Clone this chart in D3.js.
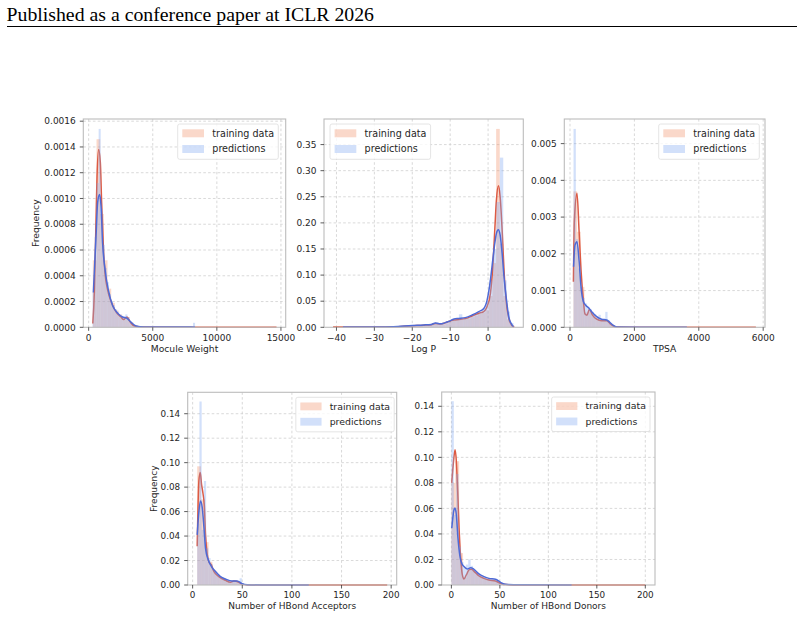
<!DOCTYPE html>
<html>
<head>
<meta charset="utf-8">
<script src="https://cdn.jsdelivr.net/npm/d3@7"></script>
<style>
body { margin: 0; background: #fff; }
text { font-family: "DejaVu Sans", sans-serif; fill: #262626; }
</style>
</head>
<body>
<script>
var svgWidth = 804;
var svgHeight = 617;

// ---------------- data ----------------
var seriesNames = ["training data", "predictions"];
var xLabels = ["Mocule Weight", "Log P", "TPSA", "Number of HBond Acceptors", "Number of HBond Donors"];

// min / max of each sample: [training, predictions]; every histogram has 50 bins over its own range
var mwRanges = [[326, 14653], [300, 8300]];
var mwTrainHist = [
    0.00052, 0.00146, 0.00088, 0.00052, 0.00030, 0.00019, 0.00013, 0.00010, 0.00006, 0.00008,
    0.00004, 0.00001, 0.000003, 0.000002, 0.000002, 0, 0, 0, 0, 0,
    0, 0, 0, 0, 0.000002, 0, 0, 0, 0, 0,
    0, 0, 0, 0, 0, 0, 0, 0, 0, 0,
    0, 0, 0, 0, 0, 0, 0, 0, 0, 0.000003];
var mwPredHist = [
    0.00027, 0.00070, 0.00112, 0.00154, 0.00092, 0.00064, 0.00046, 0.00035, 0.00026, 0.00020,
    0.00017, 0.00014, 0.00012, 0.00010, 0.00008, 0.00008, 0.00010, 0.00008, 0.00004, 0.00002,
    0.00001, 0.000005, 0, 0, 0, 0, 0, 0, 0, 0,
    0, 0, 0, 0, 0, 0, 0, 0, 0, 0,
    0, 0, 0, 0, 0, 0, 0, 0, 0, 0.000035];
var mwTrainKde = [[326, 0.00003], [444, 0.00027], [576, 0.00084], [654, 0.00117], [779, 0.00138], [911, 0.00128],
    [1012, 0.00097], [1145, 0.00063], [1277, 0.00042], [1480, 0.00029], [1745, 0.00020], [2134, 0.00012],
    [2523, 0.00008], [2726, 0.00006], [2990, 0.00008], [3248, 0.00004], [3560, 0.00001], [4200, 0.000002],
    [8000, 0.000001], [14653, 0.000001]];
var mwPredKde = [[366, 0.00027], [576, 0.00071], [701, 0.00097], [857, 0.00103], [966, 0.00094], [1090, 0.00065],
    [1277, 0.00045], [1534, 0.00029], [1869, 0.00017], [2259, 0.00011], [2648, 0.00008], [2990, 0.00007],
    [3302, 0.00004], [3700, 0.00001], [4300, 0.000002], [8000, 0.000002], [8300, 0.000001]];
var mwXTicks = [0, 5000, 10000, 15000];
var mwYTicks = [0, 0.0002, 0.0004, 0.0006, 0.0008, 0.0010, 0.0012, 0.0014, 0.0016];

var logpRanges = [[-40.9, 6.9], [-38.3, 6.7]];
var logpTrainHist = [
    0.0006, 0.0003, 0.0002, 0.0002, 0.0002, 0.0002, 0.0003, 0.0003, 0.0003, 0.0004,
    0.0004, 0.0005, 0.0005, 0.0006, 0.0007, 0.0008, 0.0010, 0.0012, 0.0015, 0.0018,
    0.0022, 0.0026, 0.0031, 0.0036, 0.0040, 0.0044, 0.0048, 0.0052, 0.0062, 0.0070,
    0.0060, 0.0075, 0.0105, 0.0130, 0.0142, 0.0150, 0.0160, 0.0170, 0.0195, 0.0225,
    0.0255, 0.0280, 0.0330, 0.0600, 0.1230, 0.3800, 0.1600, 0.0600, 0.0150, 0.0040];
var logpPredHist = [
    0.0003, 0.0003, 0.0002, 0.0003, 0.0003, 0.0004, 0.0004, 0.0005, 0.0005, 0.0006,
    0.0007, 0.0008, 0.0010, 0.0012, 0.0014, 0.0017, 0.0021, 0.0026, 0.0030, 0.0035,
    0.0040, 0.0044, 0.0048, 0.0050, 0.0052, 0.0055, 0.0058, 0.0095, 0.0065, 0.0060,
    0.0085, 0.0115, 0.0140, 0.0150, 0.0250, 0.0170, 0.0180, 0.0200, 0.0230, 0.0260,
    0.0300, 0.0360, 0.0500, 0.0900, 0.1500, 0.2400, 0.3250, 0.0900, 0.0300, 0.0080];
var logpTrainKde = [[-40.9, 0.0005], [-35, 0.0004], [-30, 0.0005], [-25, 0.001], [-20, 0.003], [-17, 0.004],
    [-15, 0.005], [-13.9, 0.0075], [-12.5, 0.0065], [-11.5, 0.008], [-10.4, 0.011], [-9, 0.014], [-7.7, 0.015],
    [-6, 0.0166], [-4.2, 0.0217], [-2.45, 0.027], [-1.13, 0.030], [-0.26, 0.040], [0.62, 0.065], [1.24, 0.116],
    [1.77, 0.187], [2.2, 0.244], [2.73, 0.271], [3.17, 0.251], [3.7, 0.187], [4.2, 0.110], [4.75, 0.052],
    [5.45, 0.017], [6.2, 0.004], [6.9, 0.0005]];
var logpPredKde = [[-38.3, 0.0004], [-35, 0.0004], [-30, 0.0006], [-25, 0.0012], [-20, 0.0035], [-17, 0.0045],
    [-15, 0.0055], [-13.9, 0.008], [-12.5, 0.0068], [-11.5, 0.0085], [-10.4, 0.011], [-9, 0.016], [-7.7, 0.017],
    [-6, 0.0185], [-4.2, 0.0236], [-2.45, 0.030], [-1.13, 0.036], [-0.26, 0.052], [0.62, 0.091], [1.24, 0.129],
    [1.77, 0.161], [2.2, 0.180], [2.7, 0.187], [3.17, 0.177], [3.7, 0.142], [4.2, 0.097], [4.75, 0.059],
    [5.45, 0.020], [6.2, 0.006], [6.7, 0.001]];
var logpXTicks = [-40, -30, -20, -10, 0];
var logpYTicks = [0, 0.05, 0.10, 0.15, 0.20, 0.25, 0.30, 0.35];

var tpsaRanges = [[106, 5773], [110, 3630]];
var tpsaTrainHist = [
    0.0037, 0.0026, 0.0011, 0.0004, 0.00045, 0.00035, 0.00024, 0.00020, 0.00018, 0.00018,
    0.00009, 0.00002, 0.000004, 0.000002, 0, 0, 0, 0, 0, 0,
    0, 0, 0, 0, 0, 0, 0, 0, 0, 0,
    0, 0, 0, 0, 0, 0, 0, 0, 0, 0,
    0, 0, 0, 0, 0, 0, 0, 0, 0, 0.000003];
var tpsaPredHist = [
    0.0054, 0.0024, 0.0016, 0.0011, 0.0008, 0.00065, 0.00055, 0.00050, 0.00042, 0.00035,
    0.00030, 0.00034, 0.00022, 0.00020, 0.00042, 0.00018, 0.00012, 0.00006, 0.00002, 0.000005,
    0, 0, 0, 0, 0, 0, 0, 0, 0, 0,
    0, 0, 0, 0, 0, 0, 0, 0, 0, 0,
    0, 0, 0, 0, 0, 0, 0, 0, 0, 0.000006];
var tpsaTrainKde = [[106, 0.00124], [135, 0.0029], [217, 0.00365], [280, 0.00265], [342, 0.00156], [414, 0.00074],
    [466, 0.00036], [528, 0.00033], [600, 0.00049], [694, 0.00034], [828, 0.00022], [983, 0.00018],
    [1139, 0.00018], [1242, 0.0001], [1346, 0.00003], [1450, 0.000005], [2500, 0.000002], [5773, 0.000001]];
var tpsaPredKde = [[110, 0.00165], [155, 0.00224], [217, 0.00233], [280, 0.00183], [342, 0.0011], [414, 0.0007],
    [487, 0.0006], [590, 0.00052], [694, 0.0004], [828, 0.00029], [983, 0.00022], [1139, 0.0002],
    [1242, 0.00013], [1346, 0.00005], [1450, 0.00001], [2500, 0.000003], [3630, 0.000002]];
var tpsaXTicks = [0, 2000, 4000, 6000];
var tpsaYTicks = [0, 0.001, 0.002, 0.003, 0.004, 0.005];

var hbaRanges = [[4.6, 196], [4.6, 117]];
var hbaTrainHist = [
    0.097, 0.070, 0.035, 0.019, 0.012, 0.008, 0.0055, 0.004, 0.0025, 0.003,
    0.0028, 0.0012, 0.0004, 0.0001, 0.0001, 0.00005, 0, 0, 0, 0,
    0, 0, 0, 0, 0, 0, 0, 0, 0, 0,
    0, 0, 0, 0, 0, 0, 0, 0, 0, 0,
    0, 0, 0, 0, 0, 0, 0, 0, 0, 0.00005];
var hbaPredHist = [
    0.050, 0.150, 0.045, 0.085, 0.030, 0.022, 0.017, 0.013, 0.011, 0.0085,
    0.0070, 0.0060, 0.0050, 0.0045, 0.0035, 0.0030, 0.0038, 0.0032, 0.0028, 0.0055,
    0.0012, 0.0006, 0.0003, 0.0001, 0, 0, 0, 0, 0, 0,
    0, 0, 0, 0, 0, 0, 0, 0, 0, 0,
    0, 0, 0, 0, 0, 0, 0, 0, 0, 0.0003];
var hbaTrainKde = [[4.6, 0.0316], [6.3, 0.085], [7.7, 0.092], [9, 0.082], [10.4, 0.075], [11.7, 0.066], [13, 0.041],
    [14.7, 0.025], [16.4, 0.019], [19.1, 0.016], [21.4, 0.011], [26.4, 0.0069], [33.1, 0.0038], [38.1, 0.0022],
    [41.5, 0.0033], [46.5, 0.0022], [49.8, 0.0005], [55, 0.0001], [70, 0.00003], [196, 0.00001]];
var hbaPredKde = [[4.6, 0.041], [6.3, 0.060], [8, 0.0686], [9.7, 0.063], [11.4, 0.047], [13, 0.030], [15.7, 0.0206],
    [19, 0.015], [23, 0.011], [28.1, 0.0069], [33.1, 0.0049], [39.8, 0.0033], [44.9, 0.0033], [49.9, 0.0011],
    [55, 0.0003], [70, 0.00005], [117, 0.00003]];
var hbaXTicks = [0, 50, 100, 150, 200];
var hbaYTicks = [0, 0.02, 0.04, 0.06, 0.08, 0.10, 0.12, 0.14];

var hbdRanges = [[0, 200], [0, 124]];
var hbdTrainHist = [
    0.080, 0.097, 0.025, 0.006, 0.011, 0.012, 0.009, 0.0065, 0.005, 0.004,
    0.0035, 0.003, 0.0015, 0.0005, 0.0002, 0.0001, 0, 0, 0, 0,
    0, 0, 0, 0, 0, 0, 0, 0, 0, 0,
    0, 0, 0, 0, 0, 0, 0, 0, 0, 0,
    0, 0, 0, 0, 0, 0, 0, 0, 0, 0.00005];
var hbdPredHist = [
    0.144, 0.055, 0.087, 0.030, 0.018, 0.014, 0.016, 0.020, 0.015, 0.012,
    0.010, 0.0085, 0.0075, 0.0068, 0.0058, 0.0050, 0.0047, 0.0045, 0.0042, 0.0030,
    0.0015, 0.0006, 0.0002, 0, 0, 0, 0, 0, 0, 0,
    0, 0, 0, 0, 0, 0, 0, 0, 0, 0,
    0, 0, 0, 0, 0, 0, 0, 0, 0, 0.0002];
var hbdTrainKde = [[0.4, 0.080], [2.2, 0.097], [3.8, 0.106], [5.1, 0.097], [6.5, 0.073], [7.9, 0.045], [9.6, 0.021],
    [11.3, 0.0079], [13, 0.0047], [15.4, 0.0079], [18.2, 0.0118], [20.9, 0.0123], [23.6, 0.0105], [28.4, 0.0071],
    [33.6, 0.0052], [38.7, 0.0039], [45.5, 0.0031], [50.7, 0.0013], [55.8, 0.0003], [70, 0.00005], [200, 0.00001]];
var hbdPredKde = [[0.4, 0.0446], [2.7, 0.059], [3.8, 0.0604], [5.1, 0.055], [6.8, 0.0367], [8.6, 0.0236],
    [10.6, 0.017], [13, 0.0144], [16.4, 0.0126], [19.9, 0.0136], [23.3, 0.0123], [28.4, 0.0087], [33.6, 0.0066],
    [38.7, 0.0052], [45.5, 0.0045], [50.7, 0.0021], [55.8, 0.0005], [70, 0.0001], [124, 0.00003]];
var hbdXTicks = [0, 50, 100, 150, 200];
var hbdYTicks = [0, 0.02, 0.04, 0.06, 0.08, 0.10, 0.12, 0.14];

// ---------------- styles ----------------
var lineColors = ["#dd5a43", "#4e6ad6"];
var fillColors = ["#f29470", "#7fa6f0"];
var fillOpacity = [0.37, 0.35];

var svg = d3.select("body")
    .append("svg")
    .attr("width", svgWidth)
    .attr("height", svgHeight);

// page header
svg.append("text")
    .attr("x", 6.5)
    .attr("y", 20.5)
    .style("font-family", "'Liberation Serif', 'Times New Roman', serif")
    .style("font-size", "19.8px")
    .style("fill", "#000")
    .text("Published as a conference paper at ICLR 2026");

svg.append("line")
    .attr("x1", 7).attr("x2", 797)
    .attr("y1", 26.5).attr("y2", 26.5)
    .attr("stroke", "#000")
    .attr("stroke-width", 1);

var panels = [
    {label: xLabels[0], ranges: mwRanges, hists: [mwTrainHist, mwPredHist], kdes: [mwTrainKde, mwPredKde],
        xTicks: mwXTicks, yTicks: mwYTicks, fmt: ".4f",
        box: [83.3, 119, 285.7, 327.3], legendLeft: false, inset: 7.4, yLabel: true, fs: 9},
    {label: xLabels[1], ranges: logpRanges, hists: [logpTrainHist, logpPredHist], kdes: [logpTrainKde, logpPredKde],
        xTicks: logpXTicks, yTicks: logpYTicks, fmt: ".2f",
        box: [324, 119, 523.3, 327.3], legendLeft: true, inset: 6, yLabel: false, fs: 9},
    {label: xLabels[2], ranges: tpsaRanges, hists: [tpsaTrainHist, tpsaPredHist], kdes: [tpsaTrainKde, tpsaPredKde],
        xTicks: tpsaXTicks, yTicks: tpsaYTicks, fmt: ".3f",
        box: [564.3, 119, 765, 327.3], legendLeft: false, inset: 5.7, yLabel: false, fs: 9},
    {label: xLabels[3], ranges: hbaRanges, hists: [hbaTrainHist, hbaPredHist], kdes: [hbaTrainKde, hbaPredKde],
        xTicks: hbaXTicks, yTicks: hbaYTicks, fmt: ".2f",
        box: [187.7, 392.3, 396.7, 585], legendLeft: false, inset: 2.5, yLabel: true, fs: 8.8},
    {label: xLabels[4], ranges: hbdRanges, hists: [hbdTrainHist, hbdPredHist], kdes: [hbdTrainKde, hbdPredKde],
        xTicks: hbdXTicks, yTicks: hbdYTicks, fmt: ".2f",
        box: [441.7, 392, 655, 585], legendLeft: false, inset: 5, yLabel: false, fs: 8.8}
];

panels.forEach(drawPanel);

function drawPanel(p) {
    var left = p.box[0], top = p.box[1], right = p.box[2], bottom = p.box[3];
    var fs = p.fs;
    var k = fs / 9;

    // matplotlib style limits: 5% margin on x, 0 .. max*1.05 on y
    var lo = d3.min(p.ranges, r => r[0]);
    var hi = d3.max(p.ranges, r => r[1]);
    var pad = (hi - lo) * 0.05;
    var x = d3.scaleLinear().domain([lo - pad, hi + pad]).range([left, right]);

    var yMax = d3.max([
        d3.max(p.hists[0]), d3.max(p.hists[1]),
        d3.max(p.kdes[0], d => d[1]), d3.max(p.kdes[1], d => d[1])
    ]);
    var y = d3.scaleLinear().domain([0, yMax * 1.05]).range([bottom, top]);

    var g = svg.append("g");

    // grid
    g.selectAll(".gx")
        .data(p.xTicks).enter()
        .append("line")
        .attr("x1", d => x(d)).attr("x2", d => x(d))
        .attr("y1", top).attr("y2", bottom)
        .attr("stroke", "#cfcfcf")
        .attr("stroke-width", 0.8)
        .attr("stroke-dasharray", "2.6,2.2");
    g.selectAll(".gy")
        .data(p.yTicks.slice(1)).enter()
        .append("line")
        .attr("x1", left).attr("x2", right)
        .attr("y1", d => y(d)).attr("y2", d => y(d))
        .attr("stroke", "#cfcfcf")
        .attr("stroke-width", 0.8)
        .attr("stroke-dasharray", "2.6,2.2");

    var line = d3.line()
        .x(d => x(d[0]))
        .y(d => y(d[1]))
        .curve(d3.curveMonotoneX);

    // training hist + kde, then predictions hist + kde (seaborn draw order)
    [0, 1].forEach(function (s) {
        var r = p.ranges[s];
        var n = p.hists[s].length;
        var w = (r[1] - r[0]) / n;
        var bins = p.hists[s].map((v, i) => ({x0: r[0] + i * w, x1: r[0] + (i + 1) * w, v: v}))
            .filter(b => b.v > 0);

        g.selectAll(".bar" + s)
            .data(bins).enter()
            .append("rect")
            .attr("x", d => x(d.x0))
            .attr("width", d => Math.max(0.3, x(d.x1) - x(d.x0)))
            .attr("y", d => y(d.v))
            .attr("height", d => bottom - y(d.v))
            .attr("fill", fillColors[s])
            .attr("fill-opacity", fillOpacity[s]);

        g.append("path")
            .datum(p.kdes[s])
            .attr("d", line)
            .attr("fill", "none")
            .attr("stroke", lineColors[s])
            .attr("stroke-width", 1.5);
    });

    // frame
    g.append("rect")
        .attr("x", left).attr("y", top)
        .attr("width", right - left).attr("height", bottom - top)
        .attr("fill", "none")
        .attr("stroke", "#bcbcbc")
        .attr("stroke-width", 1.1);

    // ticks
    g.selectAll(".tx")
        .data(p.xTicks).enter()
        .append("line")
        .attr("x1", d => x(d)).attr("x2", d => x(d))
        .attr("y1", bottom).attr("y2", bottom + 3.5)
        .attr("stroke", "#333").attr("stroke-width", 0.8);
    g.selectAll(".txl")
        .data(p.xTicks).enter()
        .append("text")
        .attr("x", d => x(d))
        .attr("y", bottom + 13.4 * k)
        .attr("text-anchor", "middle")
        .style("font-size", fs + "px")
        .text(d => d3.format("d")(d));

    var yFmt = d3.format(p.fmt);
    g.selectAll(".ty")
        .data(p.yTicks).enter()
        .append("line")
        .attr("x1", left - 3.5).attr("x2", left)
        .attr("y1", d => y(d)).attr("y2", d => y(d))
        .attr("stroke", "#333").attr("stroke-width", 0.8);
    g.selectAll(".tyl")
        .data(p.yTicks).enter()
        .append("text")
        .attr("x", left - 7.5)
        .attr("y", d => y(d))
        .attr("dy", "0.36em")
        .attr("text-anchor", "end")
        .style("font-size", fs + "px")
        .text(d => yFmt(d));

    // axis labels
    g.append("text")
        .attr("x", (left + right) / 2)
        .attr("y", bottom + 25 * k)
        .attr("text-anchor", "middle")
        .style("font-size", (fs + 0.2) + "px")
        .text(p.label);

    if (p.yLabel) {
        var ly = (top + bottom) / 2;
        var lx = p.fmt === ".4f" ? left - 44.5 : left - 31;
        g.append("text")
            .attr("transform", "translate(" + lx + "," + ly + ") rotate(-90)")
            .attr("text-anchor", "middle")
            .style("font-size", (fs + 0.2) + "px")
            .text("Frequency");
    }

    // legend
    var lw = 100.6 * k, lh = 35.3 * k;
    var lxPos = p.legendLeft ? left + p.inset : right - p.inset - lw;
    var lyPos = top + 5;
    var lg = g.append("g").attr("transform", "translate(" + lxPos + "," + lyPos + ")");
    lg.append("rect")
        .attr("width", lw).attr("height", lh)
        .attr("rx", 2)
        .attr("fill", "#fff").attr("fill-opacity", 0.8)
        .attr("stroke", "#dddddd").attr("stroke-width", 0.8);
    seriesNames.forEach(function (name, i) {
        var cy = (9.3 + i * 15.7) * k;
        lg.append("rect")
            .attr("x", 4.6 * k).attr("y", cy - 4 * k)
            .attr("width", 21.7 * k).attr("height", 8 * k)
            .attr("fill", fillColors[i]).attr("fill-opacity", fillOpacity[i]);
        lg.append("text")
            .attr("x", 34.6 * k).attr("y", cy)
            .attr("dy", "0.36em")
            .style("font-size", (9.6 * k) + "px")
            .text(name);
    });
}
</script>
</body>
</html>
